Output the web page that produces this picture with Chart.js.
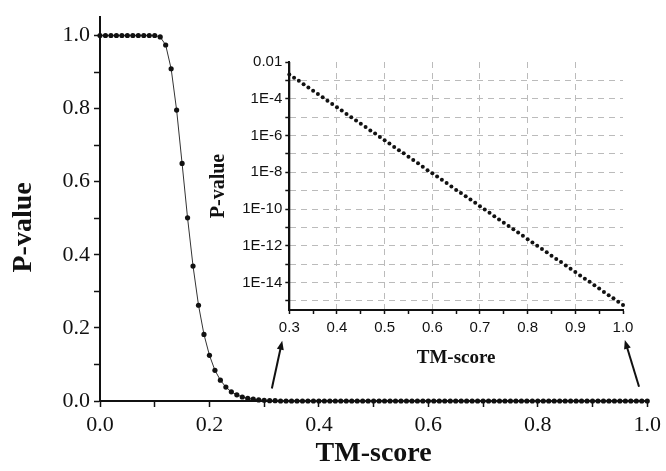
<!DOCTYPE html>
<html>
<head>
  <title>TM-score P-value</title>
  <style>
    body { margin: 0; background: #fff; }
    #wrap { position: relative; width: 666px; height: 471px; }
    #main_chart { position: absolute; left: 0; top: 0; }
    #inset_chart { position: absolute; left: 200px; top: 40px; }
  </style>
</head>
<body>

  <div id="wrap">
    <canvas id="main_chart" width="666" height="471"></canvas>
    <canvas id="inset_chart" width="440" height="340"></canvas>
  </div>

  <script src="https://cdn.jsdelivr.net/npm/chart.js@4/dist/chart.umd.min.js"></script>
  <script>
    // Main plot: TM-score vs P-value (linear)
    var mainScore = [0.00, 0.01, 0.02, 0.03, 0.04, 0.05, 0.06, 0.07, 0.08, 0.09,
      0.10, 0.11, 0.12, 0.13, 0.14, 0.15, 0.16, 0.17, 0.18, 0.19,
      0.20, 0.21, 0.22, 0.23, 0.24, 0.25, 0.26, 0.27, 0.28, 0.29,
      0.30, 0.31, 0.32, 0.33, 0.34, 0.35, 0.36, 0.37, 0.38, 0.39,
      0.40, 0.41, 0.42, 0.43, 0.44, 0.45, 0.46, 0.47, 0.48, 0.49,
      0.50, 0.51, 0.52, 0.53, 0.54, 0.55, 0.56, 0.57, 0.58, 0.59,
      0.60, 0.61, 0.62, 0.63, 0.64, 0.65, 0.66, 0.67, 0.68, 0.69,
      0.70, 0.71, 0.72, 0.73, 0.74, 0.75, 0.76, 0.77, 0.78, 0.79,
      0.80, 0.81, 0.82, 0.83, 0.84, 0.85, 0.86, 0.87, 0.88, 0.89,
      0.90, 0.91, 0.92, 0.93, 0.94, 0.95, 0.96, 0.97, 0.98, 0.99, 1.00];
    var mainPValue = [1, 1, 1, 1, 1, 1, 1, 1, 1, 1,
      1, 0.996, 0.974, 0.909, 0.796, 0.650, 0.501, 0.369, 0.262, 0.182,
      0.125, 0.084, 0.057, 0.038, 0.025, 0.017, 0.011, 0.007, 0.005, 0.003,
      0.002, 0.001, 0.001, 0, 0, 0, 0, 0, 0, 0,
      0, 0, 0, 0, 0, 0, 0, 0, 0, 0,
      0, 0, 0, 0, 0, 0, 0, 0, 0, 0,
      0, 0, 0, 0, 0, 0, 0, 0, 0, 0,
      0, 0, 0, 0, 0, 0, 0, 0, 0, 0,
      0, 0, 0, 0, 0, 0, 0, 0, 0, 0,
      0, 0, 0, 0, 0, 0, 0, 0, 0, 0, 0];
    var mainXTicks = [0, 0.1, 0.2, 0.3, 0.4, 0.5, 0.6, 0.7, 0.8, 0.9, 1.0];
    var mainYTicks = [0, 0.1, 0.2, 0.3, 0.4, 0.5, 0.6, 0.7, 0.8, 0.9, 1.0];

    // Inset: tail of the curve on a log axis
    var insetScore = [0.30, 0.31, 0.32, 0.33, 0.34, 0.35, 0.36, 0.37, 0.38, 0.39,
      0.40, 0.41, 0.42, 0.43, 0.44, 0.45, 0.46, 0.47, 0.48, 0.49,
      0.50, 0.51, 0.52, 0.53, 0.54, 0.55, 0.56, 0.57, 0.58, 0.59,
      0.60, 0.61, 0.62, 0.63, 0.64, 0.65, 0.66, 0.67, 0.68, 0.69,
      0.70, 0.71, 0.72, 0.73, 0.74, 0.75, 0.76, 0.77, 0.78, 0.79,
      0.80, 0.81, 0.82, 0.83, 0.84, 0.85, 0.86, 0.87, 0.88, 0.89,
      0.90, 0.91, 0.92, 0.93, 0.94, 0.95, 0.96, 0.97, 0.98, 0.99, 1.00];
    var insetPValue = [2.1e-3, 1.4e-3, 9.4e-4, 6.2e-4, 4.1e-4, 2.7e-4, 1.8e-4, 1.2e-4, 7.9e-5, 5.2e-5,
      3.4e-5, 2.3e-5, 1.5e-5, 9.9e-6, 6.6e-6, 4.4e-6, 2.9e-6, 1.9e-6, 1.3e-6, 8.4e-7,
      5.5e-7, 3.7e-7, 2.4e-7, 1.6e-7, 1.1e-7, 7.0e-8, 4.6e-8, 3.1e-8, 2.0e-8, 1.3e-8,
      8.9e-9, 5.9e-9, 3.9e-9, 2.6e-9, 1.7e-9, 1.1e-9, 7.4e-10, 4.9e-10, 3.3e-10, 2.2e-10,
      1.4e-10, 9.4e-11, 6.2e-11, 4.1e-11, 2.7e-11, 1.8e-11, 1.2e-11, 7.9e-12, 5.2e-12, 3.5e-12,
      2.3e-12, 1.5e-12, 1.0e-12, 6.6e-13, 4.4e-13, 2.9e-13, 1.9e-13, 1.3e-13, 8.4e-14, 5.6e-14,
      3.7e-14, 2.4e-14, 1.6e-14, 1.1e-14, 7.1e-15, 4.7e-15, 3.1e-15, 2.0e-15, 1.4e-15, 8.9e-16, 5.9e-16];
    var insetXTicks = [0.3, 0.35, 0.4, 0.45, 0.5, 0.55, 0.6, 0.65, 0.7, 0.75, 0.8, 0.85, 0.9, 0.95, 1.0];
    var insetYTicks = [1e-2, 1e-3, 1e-4, 1e-5, 1e-6, 1e-7, 1e-8, 1e-9, 1e-10, 1e-11, 1e-12, 1e-13, 1e-14, 1e-15];

    var serif = "'Liberation Serif', 'Times New Roman', serif";
    var sans = "'Liberation Sans', Arial, sans-serif";
    var ink = "#111";

    function isTenth(v) { return Math.abs(Math.round(v * 10) - v * 10) < 1e-6; }

    // arrows from the main x axis up to the inset's end labels
    var arrowPlugin = {
      id: "arrows",
      afterDraw: function (chart) {
        var ctx = chart.ctx, xs = chart.scales.x, ys = chart.scales.y;
        var arrows = [[0.314, 0.034, 0.333, 0.165], [0.985, 0.039, 0.959, 0.167]];
        ctx.save();
        ctx.strokeStyle = ink;
        ctx.fillStyle = ink;
        ctx.lineWidth = 2;
        arrows.forEach(function (a) {
          var x0 = xs.getPixelForValue(a[0]), y0 = ys.getPixelForValue(a[1]);
          var x1 = xs.getPixelForValue(a[2]), y1 = ys.getPixelForValue(a[3]);
          var ang = Math.atan2(y1 - y0, x1 - x0);
          ctx.beginPath();
          ctx.moveTo(x0, y0);
          ctx.lineTo(x1 - 6 * Math.cos(ang), y1 - 6 * Math.sin(ang));
          ctx.stroke();
          ctx.beginPath();
          ctx.moveTo(x1, y1);
          ctx.lineTo(x1 - 9 * Math.cos(ang) + 3.5 * Math.sin(ang), y1 - 9 * Math.sin(ang) - 3.5 * Math.cos(ang));
          ctx.lineTo(x1 - 9 * Math.cos(ang) - 3.5 * Math.sin(ang), y1 - 9 * Math.sin(ang) + 3.5 * Math.cos(ang));
          ctx.closePath();
          ctx.fill();
        });
        // main y title, sits a little lower than the axis centre
        ctx.translate(24, ys.getPixelForValue(0.475));
        ctx.rotate(-Math.PI / 2);
        ctx.font = "bold 28px " + serif;
        ctx.textAlign = "center";
        ctx.textBaseline = "middle";
        ctx.fillText("P-value", 0, 0);
        ctx.restore();
      }
    };

    // solid axis lines for the inset (grid dashes also hit the border in v4)
    var insetAxesPlugin = {
      id: "insetAxes",
      afterDraw: function (chart) {
        var ctx = chart.ctx, a = chart.chartArea;
        ctx.save();
        ctx.strokeStyle = ink;
        ctx.lineWidth = 2;
        ctx.setLineDash([]);
        ctx.beginPath();
        ctx.moveTo(a.left, a.top);
        ctx.lineTo(a.left, a.bottom);
        ctx.lineTo(a.right, a.bottom);
        ctx.stroke();
        ctx.restore();
      }
    };

    new Chart("main_chart", {
      type: "scatter",
      data: {
        datasets: [{
          data: mainScore.map(function (x, i) { return {x: x, y: mainPValue[i]}; }),
          showLine: true,
          borderColor: "#333",
          borderWidth: 1,
          pointRadius: 2.6,
          pointBorderWidth: 0,
          pointBackgroundColor: ink,
          clip: false
        }]
      },
      options: {
        responsive: false,
        animation: false,
        layout: {padding: {left: 0, right: 16, top: 12.5, bottom: 0}},
        plugins: {legend: {display: false}, tooltip: {enabled: false}},
        scales: {
          x: {
            type: "linear", min: 0, max: 1,
            afterBuildTicks: function (s) { s.ticks = mainXTicks.map(function (v) { return {value: v}; }); },
            afterFit: function (s) { s.height = 70; },
            ticks: {
              autoSkip: false, maxRotation: 0, padding: 5, color: ink,
              font: {family: serif, size: 22},
              callback: function (v) { return Math.round(v * 10) % 2 === 0 ? v.toFixed(1) : ""; }
            },
            grid: {drawOnChartArea: false, tickLength: 6, tickColor: ink, tickWidth: 1.5},
            border: {color: ink, width: 2},
            title: {display: true, text: "TM-score", color: ink, font: {family: serif, size: 28, weight: "bold"}, padding: {top: 0, bottom: 0}}
          },
          y: {
            type: "linear", min: 0, max: 1.05,
            afterBuildTicks: function (s) { s.ticks = mainYTicks.map(function (v) { return {value: v}; }); },
            afterFit: function (s) { s.width = 100; },
            ticks: {
              autoSkip: false, padding: 4, color: ink,
              font: {family: serif, size: 22},
              callback: function (v) { return Math.round(v * 10) % 2 === 0 ? v.toFixed(1) : ""; }
            },
            grid: {drawOnChartArea: false, tickLength: 6, tickColor: ink, tickWidth: 1.5},
            border: {color: ink, width: 2}
          }
        }
      },
      plugins: [arrowPlugin]
    });

    new Chart("inset_chart", {
      type: "scatter",
      data: {
        datasets: [{
          data: insetScore.map(function (x, i) { return {x: x, y: insetPValue[i]}; }),
          showLine: false,
          pointRadius: 2,
          pointBorderWidth: 0,
          pointBackgroundColor: ink,
          clip: false
        }]
      },
      options: {
        responsive: false,
        animation: false,
        layout: {padding: {left: 0, right: 17, top: 22, bottom: 0}},
        plugins: {legend: {display: false}, tooltip: {enabled: false}},
        scales: {
          x: {
            type: "linear", min: 0.3, max: 1.0,
            afterBuildTicks: function (s) { s.ticks = insetXTicks.map(function (v) { return {value: v}; }); },
            afterFit: function (s) { s.height = 70; },
            ticks: {
              autoSkip: false, maxRotation: 0, padding: 5, color: ink,
              font: {family: sans, size: 15},
              callback: function (v) { return isTenth(v) ? v.toFixed(1) : ""; }
            },
            grid: {
              color: function (c) {
                var v = c.tick ? c.tick.value : 0;
                return (isTenth(v) && v > 0.35 && v < 0.95) ? "#bbb" : "rgba(0,0,0,0)";
              },
              lineWidth: 1,
              tickLength: 4, tickColor: ink, tickWidth: 1.5, tickBorderDash: []
            },
            border: {color: ink, width: 2, dash: [6, 5]},
            title: {display: true, text: "TM-score", color: ink, font: {family: serif, size: 19, weight: "bold"}, padding: {top: 0, bottom: 11}}
          },
          y: {
            type: "logarithmic", min: 3.2e-16, max: 1e-2,
            afterBuildTicks: function (s) { s.ticks = insetYTicks.map(function (v) { return {value: v}; }); },
            afterFit: function (s) { s.width = 89.3; },
            ticks: {
              autoSkip: false, padding: 3, color: ink,
              font: {family: sans, size: 15},
              callback: function (v) {
                var e = Math.round(Math.log10(v));
                if (e % 2 !== 0) return "";
                return e === -2 ? "0.01" : "1E" + e;
              }
            },
            grid: {
              color: function (c) {
                var v = c.tick ? c.tick.value : 0;
                return v >= 1e-2 ? "rgba(0,0,0,0)" : "#bbb";
              },
              lineWidth: 1,
              tickLength: 4, tickColor: ink, tickWidth: 1.5, tickBorderDash: []
            },
            border: {color: ink, width: 2, dash: [6, 5]},
            title: {display: true, text: "P-value", color: ink, font: {family: serif, size: 20, weight: "bold"}, padding: {top: 7, bottom: 0}}
          }
        }
      },
      plugins: [insetAxesPlugin]
    });
  </script>

</body>
</html>
